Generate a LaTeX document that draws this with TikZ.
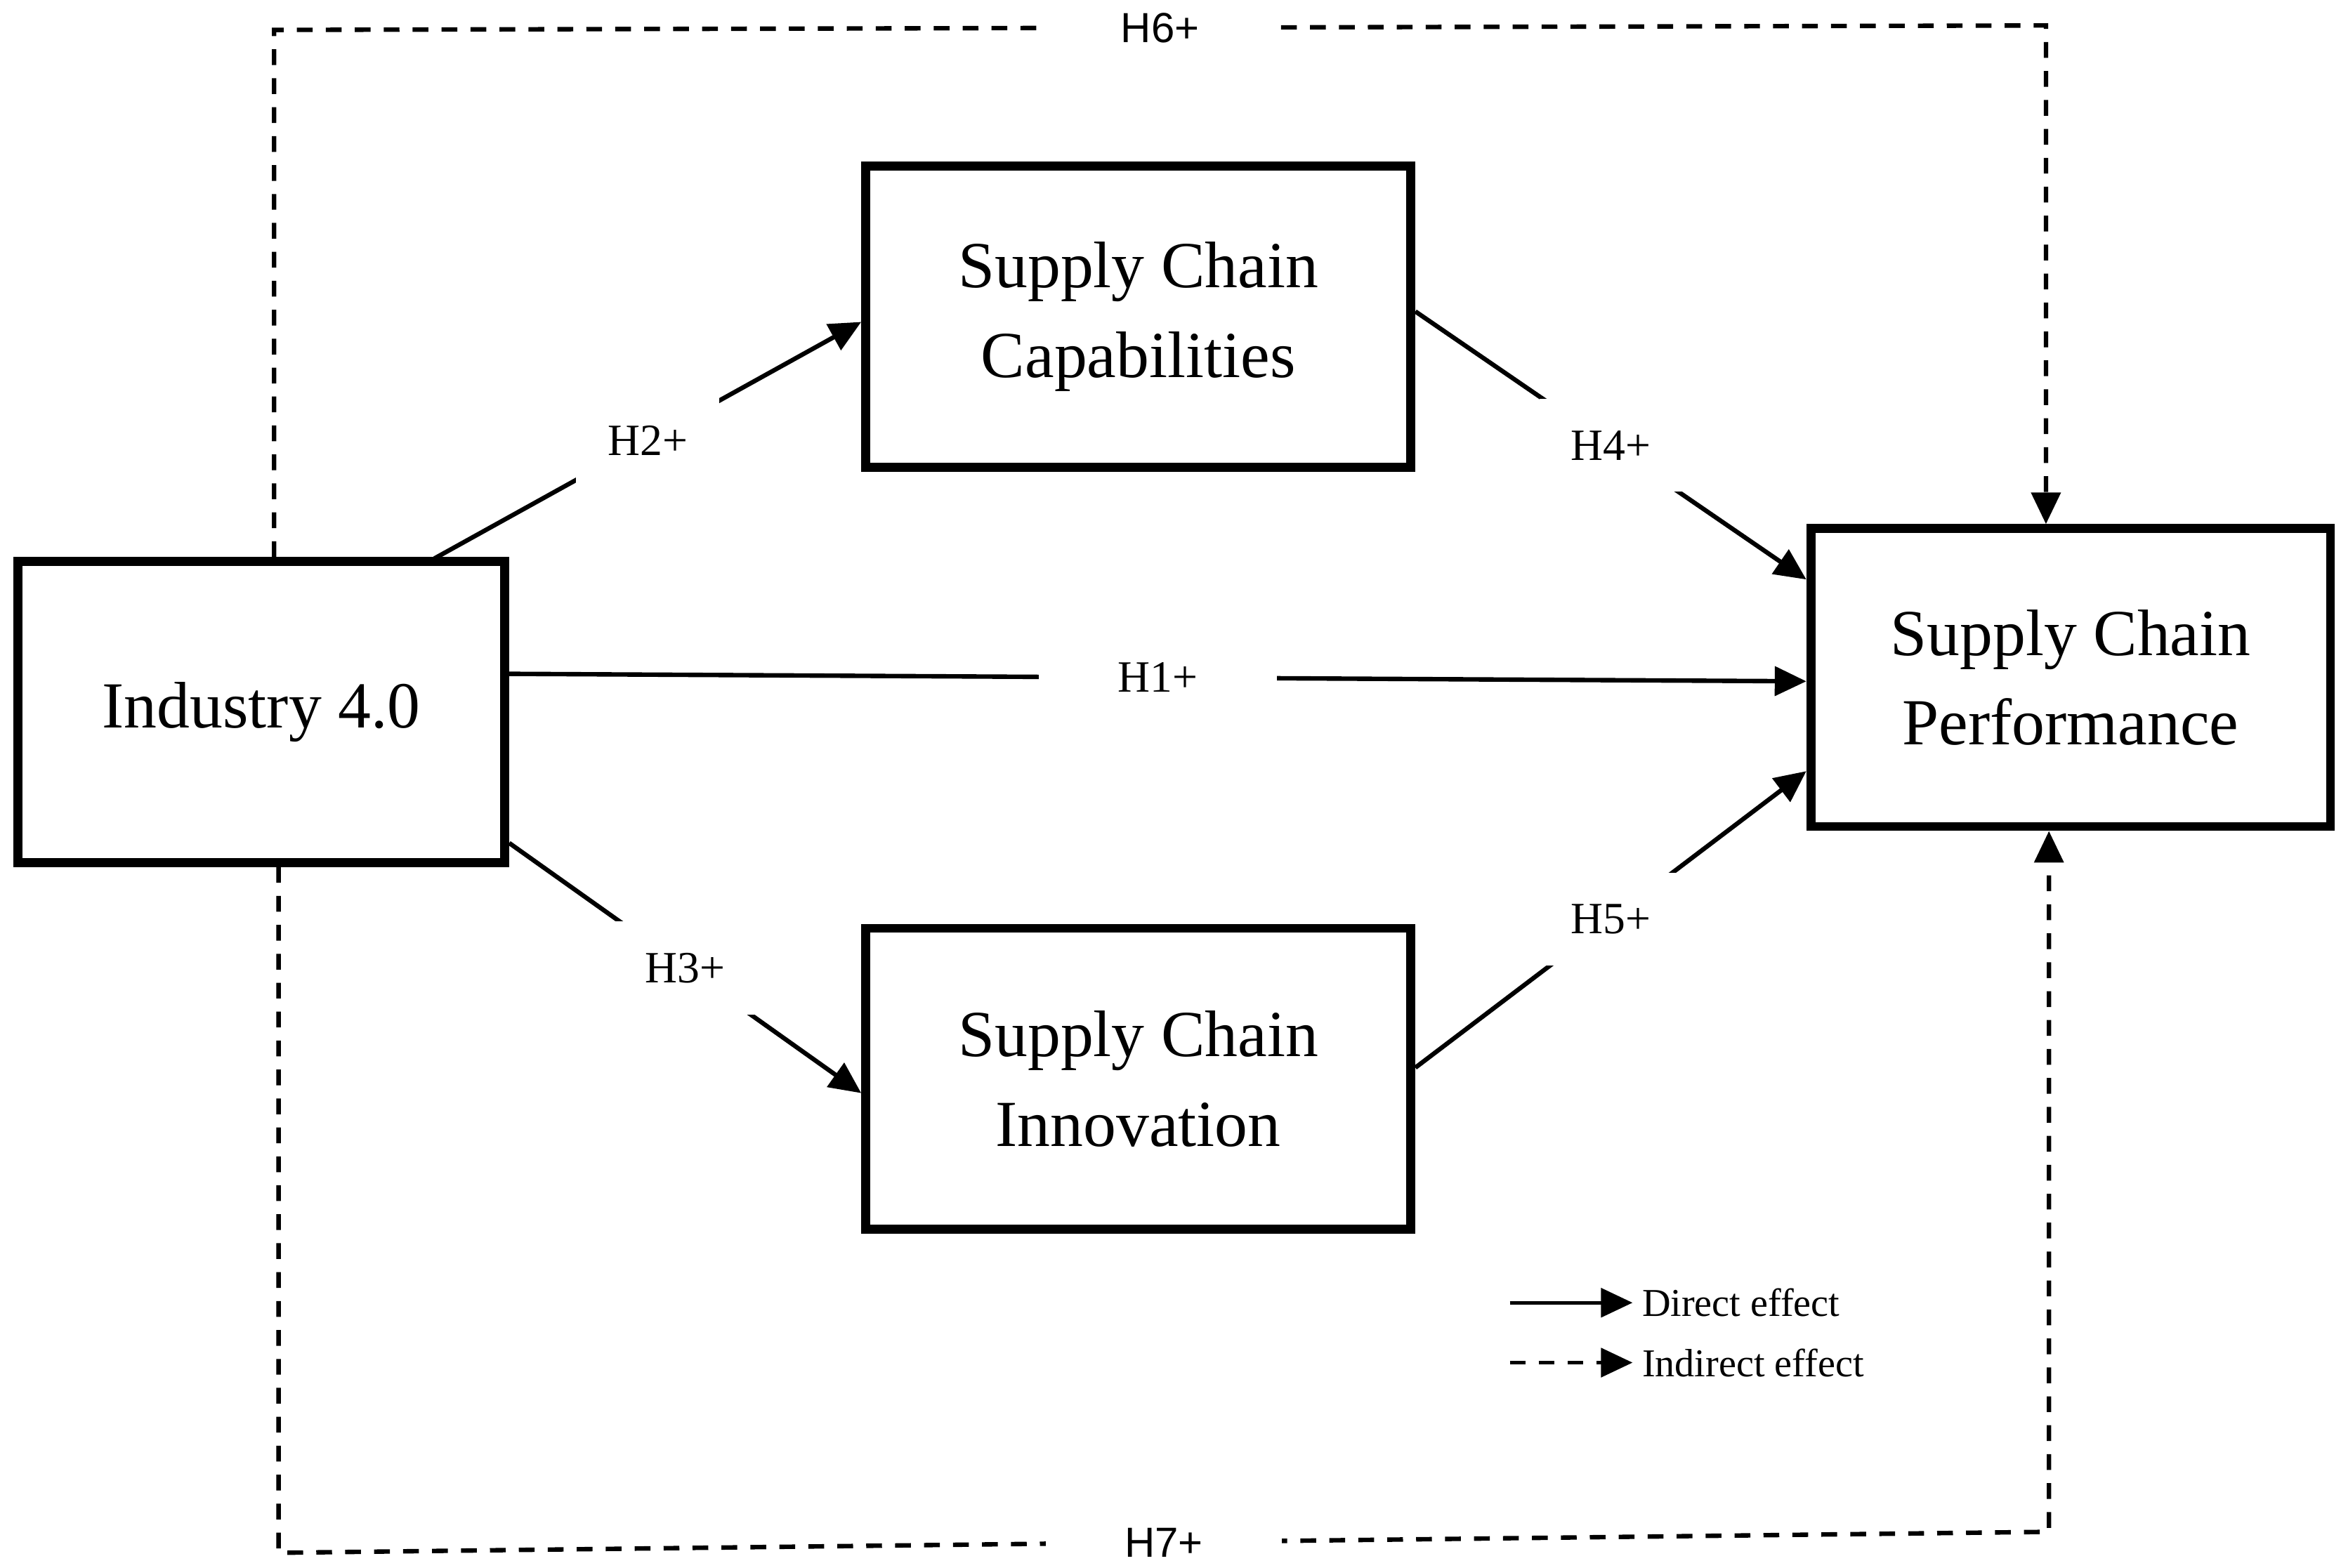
\documentclass[tikz,border=0pt]{standalone}
\usepackage{fontspec}
\setmainfont{Liberation Serif}
\newfontfamily\lblsans{Liberation Sans}
\usetikzlibrary{arrows.meta}
\begin{document}
\begin{tikzpicture}[x=0.02cm,y=-0.02cm,
    box/.style={draw,line width=3.4pt,font=\fontsize{25}{34}\selectfont,align=center},
    eff/.style={line width=1.7pt,-{Triangle[length=12pt,width=11pt]}},
    ind/.style={eff,dash pattern=on 6pt off 5pt},
    hyp/.style={fill=white,font=\fontsize{17}{20}\selectfont,inner sep=12pt},
    hyps/.style={fill=white,font=\lblsans\fontsize{16}{20}\selectfont,inner xsep=30pt}
    ]
    \useasboundingbox (0,0) rectangle (1563,1047);

    \node[box,minimum width=325*0.02cm,minimum height=201*0.02cm] (ind) at (174.5,475.5) {Industry 4.0};
    \node[box,minimum width=364*0.02cm,minimum height=201*0.02cm] (cap) at (760,211.5) {Supply Chain\\Capabilities};
    \node[box,minimum width=364*0.02cm,minimum height=201*0.02cm] (inn) at (760,720.5) {Supply Chain\\Innovation};
    \node[box,minimum width=347*0.02cm,minimum height=199*0.02cm] (perf) at (1382.5,452.5) {Supply Chain\\Performance};

    \draw[eff] (290,373) -- node[hyp] {H2+} (cap.west |- 0,215);
    \draw[eff] (ind.east |- 0,563) -- node[hyp] {H3+} (inn.west |- 0,730);
    \draw[eff] (cap.east |- 0,208) -- node[hyp] {H4+} (perf.west |- 0,387);
    \draw[eff] (inn.east |- 0,713) -- node[hyp] {H5+} (perf.west |- 0,515);
    \draw[eff] (ind.east |- 0,450) -- node[hyps,font=\fontsize{17}{20}\selectfont] {H1+} (perf.west |- 0,455);

    \coordinate (t1) at (183,20);
    \coordinate (t2) at (1366,17);
    \coordinate (b1) at (186,1037);
    \coordinate (b2) at (1368,1023);
    \draw[ind] (ind.north -| t1) -- (t1) -- node[hyps] {H6+} (t2) -- (perf.north -| t2);
    \draw[ind] (ind.south -| b1) -- (b1) -- node[hyps] {H7+} (b2) -- (perf.south -| b2);

    \coordinate (l1) at (1008,870);
    \coordinate (l2) at (1090,870);
    \coordinate (l3) at (1008,910);
    \coordinate (l4) at (1090,910);
    \draw[eff,line width=1.3pt] (l1) -- (l2) node[right,font=\fontsize{15}{18}\selectfont,inner sep=3pt] (d) {Direct effect};
    \draw[ind,line width=1.3pt] (l3) -- (l4) node[right,font=\fontsize{15}{18}\selectfont,inner sep=3pt] (i) {Indirect effect};
\end{tikzpicture}
\end{document}
